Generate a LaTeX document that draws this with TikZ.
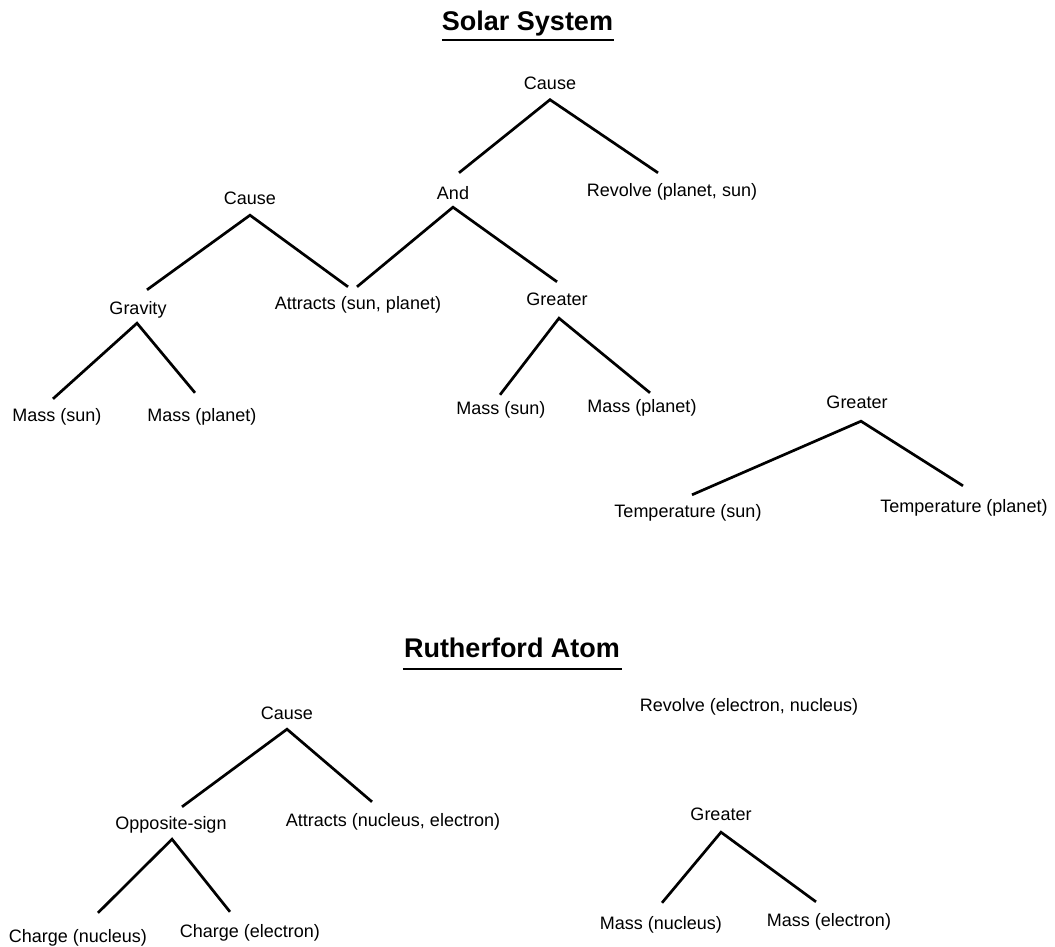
\documentclass[tikz,border=0pt]{standalone}
\usepackage{fontspec}
\setmainfont{Liberation Sans}
\begin{document}
\begin{tikzpicture}[x=1pt,y=-1pt,
  lbl/.style={inner sep=0pt, text height=13pt, text depth=4pt, font=\fontsize{18}{20}\selectfont},
  ttl/.style={inner sep=0pt, anchor=base, font=\bfseries\fontsize{27}{31}\selectfont},
  link/.style={line width=2.7pt},
  uline/.style={line width=1.8pt}]
\useasboundingbox (0,0) rectangle (1055,946);

% ---------- Solar System ----------
\node[ttl] (t1) at (527.5,30) {Solar System};
\draw[uline] ([yshift=-10pt]t1.base west) -- ([xshift=1pt,yshift=-10pt]t1.base east);

\node[lbl] (c0) at (550,85) {Cause};
\node[lbl] (and) at (453,195) {And};
\node[lbl] (rev1) at (672,192) {Revolve (planet, sun)};
\node[lbl] (c1) at (250,200) {Cause};
\node[lbl] (grav) at (138,310) {Gravity};
\node[lbl] (att1) at (358,305) {Attracts (sun, planet)};
\node[lbl] (gr1) at (557,301) {Greater};
\node[lbl] (ms1) at (57,417) {Mass (sun)};
\node[lbl] (mp1) at (202,417) {Mass (planet)};
\node[lbl] (ms2) at (501,410) {Mass (sun)};
\node[lbl] (mp2) at (642,408) {Mass (planet)};
\node[lbl] (gr2) at (857,404) {Greater};
\node[lbl] (ts) at (688,513) {Temperature (sun)};
\node[lbl] (tp) at (964,508) {Temperature (planet)};

\draw[link] ([xshift=6pt,yshift=13.5pt]and.north) -- ([yshift=-6pt]c0.south) -- ([xshift=-14pt,yshift=10.5pt]rev1.north);
\draw[link] ([xshift=9pt,yshift=11.5pt]grav.north) -- ([yshift=-6.5pt]c1.south) -- ([xshift=-10pt,yshift=9.5pt]att1.north);
\draw[link] ([xshift=-1pt,yshift=9.5pt]att1.north) -- ([yshift=-3.5pt]and.south) -- ([yshift=10.5pt]gr1.north);
\draw[link] ([xshift=-4pt,yshift=9.5pt]ms1.north) -- ([xshift=-1pt,yshift=-4.5pt]grav.south) -- ([xshift=-7pt,yshift=15.5pt]mp1.north);
\draw[link] ([xshift=-1pt,yshift=6.5pt]ms2.north) -- ([xshift=2pt,yshift=-8.5pt]gr1.south) -- ([xshift=8pt,yshift=6.5pt]mp2.north);
\draw[link] ([xshift=4pt,yshift=9.5pt]ts.north) -- ([xshift=4pt,yshift=-8.5pt]gr2.south) -- ([xshift=-1pt,yshift=13.5pt]tp.north);

% ---------- Rutherford Atom ----------
\node[ttl] (t2) at (512,657) {Rutherford Atom};
\draw[uline] ([xshift=-1pt,yshift=-12pt]t2.base west) -- ([xshift=2pt,yshift=-12pt]t2.base east);

\node[lbl] (cr) at (287,715) {Cause};
\node[lbl] (opp) at (171,825) {Opposite-sign};
\node[lbl] (attr) at (393,822) {Attracts (nucleus, electron)};
\node[lbl] (chn) at (78,938) {Charge (nucleus)};
\node[lbl] (che) at (250,933) {Charge (electron)};
\node[lbl] (revr) at (749,707) {Revolve (electron, nucleus)};
\node[lbl] (grr) at (721,816) {Greater};
\node[lbl] (mn) at (661,925) {Mass (nucleus)};
\node[lbl] (me) at (829,922) {Mass (electron)};

\draw[link] ([xshift=11pt,yshift=9.5pt]opp.north) -- ([yshift=-5.5pt]cr.south) -- ([xshift=-21pt,yshift=11.5pt]attr.north);
\draw[link] ([xshift=20pt,yshift=16.5pt]chn.north) -- ([xshift=1pt,yshift=-5.5pt]opp.south) -- ([xshift=-20pt,yshift=12.5pt]che.north);
\draw[link] ([xshift=1pt,yshift=13.5pt]mn.north) -- ([yshift=-7.5pt]grr.south) -- ([xshift=-13pt,yshift=11.5pt]me.north);
\end{tikzpicture}
\end{document}
